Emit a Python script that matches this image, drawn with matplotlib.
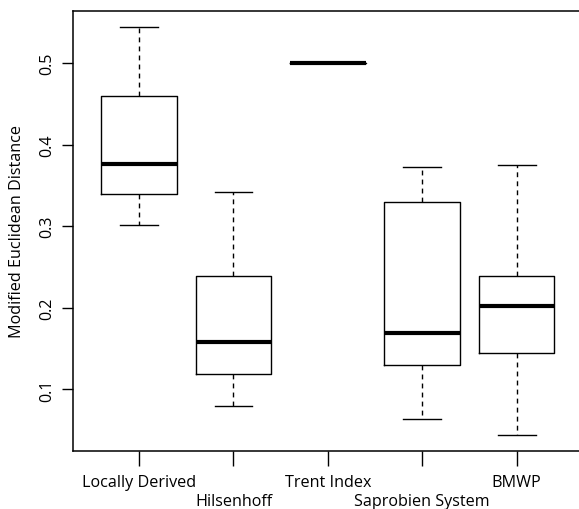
import matplotlib
matplotlib.use("Agg")
import matplotlib.pyplot as plt
from matplotlib.transforms import blended_transform_factory

categories = ["Locally Derived", "Hilsenhoff", "Trent Index", "Saprobien System", "BMWP"]
whisker_low = [0.302, 0.0796, 0.500, 0.0643, 0.0445]
q1 = [0.3397, 0.1187, 0.500, 0.1303, 0.1450]
median = [0.3764, 0.1585, 0.500, 0.1695, 0.2026]
q3 = [0.4600, 0.2393, 0.500, 0.3300, 0.2393]
whisker_high = [0.5436, 0.3416, 0.500, 0.3720, 0.3747]
yticks = [0.1, 0.2, 0.3, 0.4, 0.5]
ylabel = "Modified Euclidean Distance"

plt.rcParams['font.family'] = ['Open Sans', 'DejaVu Sans']
FS = 11.6

W, H = 579, 510
fig = plt.figure(figsize=(W / 100, H / 100), dpi=100)
left, right, top, bottom = 73, 582.7, 12, 452
ax = fig.add_axes([left / W, 1 - bottom / H, (right - left) / W, (bottom - top) / H])

stats = []
for i, c in enumerate(categories):
    stats.append(dict(label=c, whislo=whisker_low[i], q1=q1[i], med=median[i],
                      q3=q3[i], whishi=whisker_high[i], fliers=[]))

positions = list(range(1, len(categories) + 1))
lw = 1.0
ax.bxp(stats, positions=positions, widths=0.8, showfliers=False,
       boxprops=dict(color='black', linewidth=lw),
       medianprops=dict(color='black', linewidth=3.0, solid_capstyle='butt'),
       whiskerprops=dict(color='black', linewidth=lw, linestyle=(0, (3.5, 3))),
       capprops=dict(color='black', linewidth=lw),
       capwidths=0.4)

ax.set_xlim(0.3, 5.7)
ax.set_ylim(0.0245, 0.5636)
ax.set_yticks(yticks)
ax.set_yticklabels([f"{v:g}" for v in yticks], rotation=90, va='center', fontsize=FS)
ax.set_xticks(positions)
ax.set_xticklabels([])
ax.tick_params(axis='y', length=8, width=1, pad=5)
ax.tick_params(axis='x', length=11, width=1)
for s in ax.spines.values():
    s.set_linewidth(1.1)

trans = blended_transform_factory(ax.transData, fig.transFigure)
for i, c in enumerate(categories):
    yb = 486.7 if i % 2 == 0 else 506.0
    ax.text(positions[i], 1 - yb / H, c, transform=trans, ha='center', va='baseline',
            fontsize=FS)

fig.text(17 / W, 1 - 232 / H, ylabel, rotation=90, ha='center', va='center', fontsize=FS)

fig.savefig("out.png", dpi=100)
